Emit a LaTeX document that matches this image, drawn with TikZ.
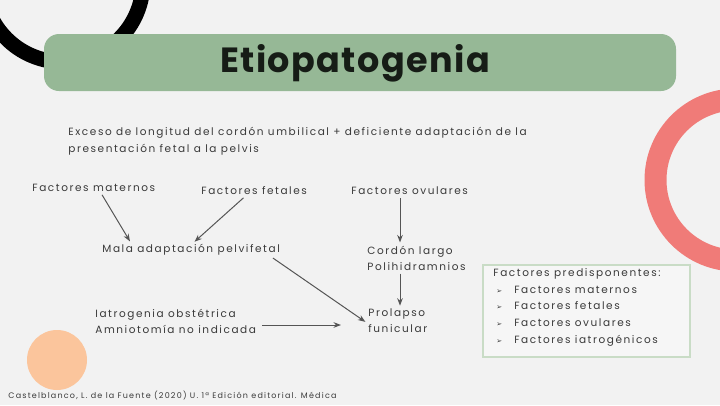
\documentclass[tikz,border=0pt]{standalone}
\usepackage{fontspec}
\setmainfont{Poppins}
\newfontfamily\cuerpo{Poppins}[LetterSpace=15]
\newfontfamily\titulofont{Poppins}[LetterSpace=4]
\newfontfamily\symfont{DejaVu Sans}
\usetikzlibrary{arrows.meta}
\definecolor{fondo}{HTML}{F2F2F2}
\definecolor{verdetit}{HTML}{96B896}
\definecolor{texto}{HTML}{3A3A3A}
\definecolor{flecha}{HTML}{555555}
\definecolor{rojo}{HTML}{F07B78}
\definecolor{naranja}{HTML}{FBC59C}
\definecolor{cajaborde}{HTML}{C9DCC6}

\begin{document}
\begin{tikzpicture}[x=1pt,y=-1pt,line width=0.8pt,>=Stealth,
  etiq/.style={anchor=west,inner sep=1pt,text=texto,font=\cuerpo\fontsize{10.5}{16}\selectfont,align=left},
  flec/.style={->,flecha,line width=1pt,shorten >=2pt,shorten <=2pt}]
\fill[fondo] (0,0) rectangle (720,405);
\useasboundingbox (0,0) rectangle (720,405);
% ---------- decoracion ----------
\draw[black,line width=15pt] (63,-18) circle (80);
\draw[rojo,line width=22pt] (736,180) circle (80.5);
\fill[naranja] (57,360) circle (30);
% ---------- titulo ----------
\fill[verdetit,rounded corners=15pt] (44,34) rectangle (676,91);
\node[inner sep=0pt,text=black!85!verdetit] (titulo) at (355,63)
  {\titulofont\fontsize{35}{40}\selectfont\bfseries Etiopatogenia};
\node[anchor=west,inner sep=0pt,text=texto,font=\cuerpo\fontsize{10.5}{17.5}\selectfont,align=left] (intro) at (68,141)
  {Exceso de longitud del cordón umbilical + deficiente adaptación de la\\
   presentación fetal a la pelvis};
% ---------- esquema ----------
\node[etiq] (maternos) at (31,188) {Factores maternos};
\node[etiq] (fetales) at (200,191) {Factores fetales};
\node[etiq] (ovulares) at (350,191) {Factores ovulares};
\node[etiq] (mala) at (101,250) {Mala adaptación pelvifetal};
\node[etiq] (cordon) at (366,258) {Cordón largo\\Polihidramnios};
\node[etiq] (iatro) at (94,321) {Iatrogenia obstétrica\\Amniotomía no indicada};
\node[etiq] (prolapso) at (367,321) {Prolapso\\funicular};
\draw[flec] ([xshift=70pt]maternos.south west) -- ([xshift=30pt]mala.north west);
\draw[flec] ([xshift=45pt]fetales.south west) -- ([xshift=92pt]mala.north west);
\draw[flec] ([xshift=50pt]ovulares.south west) -- ([xshift=34pt]cordon.north west);
\draw[flec] ([xshift=34pt]cordon.south west) -- ([xshift=33pt]prolapso.north west);
\draw[flec] ([xshift=-10pt]mala.south east) -- ([yshift=-2pt]prolapso.west);
\draw[flec] ([xshift=3pt,yshift=-4pt]iatro.east) -- ([xshift=-24pt,yshift=-4pt]prolapso.west |- iatro.east);
% ---------- caja ----------
\draw[cajaborde,fill=fondo!70!white,line width=1.2pt] (483,265) rectangle (690,357);
\node[anchor=north west,inner sep=0pt,text=texto,font=\cuerpo\fontsize{10.5}{16.8}\selectfont,align=left] (predisp) at (493,268)
  {Factores predisponentes:\\
   \hspace{3pt}{\symfont\fontsize{7}{7}\selectfont ➢}\hspace{12pt}Factores maternos\\
   \hspace{3pt}{\symfont\fontsize{7}{7}\selectfont ➢}\hspace{12pt}Factores fetales\\
   \hspace{3pt}{\symfont\fontsize{7}{7}\selectfont ➢}\hspace{12pt}Factores ovulares\\
   \hspace{3pt}{\symfont\fontsize{7}{7}\selectfont ➢}\hspace{12pt}Factores iatrogénicos};
% ---------- pie ----------
\node[anchor=west,inner sep=0pt,text=texto,font=\cuerpo\fontsize{8}{9}\selectfont] (pie) at (8,396)
  {Castelblanco, L. de la Fuente (2020) U. 1ª Edición editorial. Médica};
\end{tikzpicture}
\end{document}
